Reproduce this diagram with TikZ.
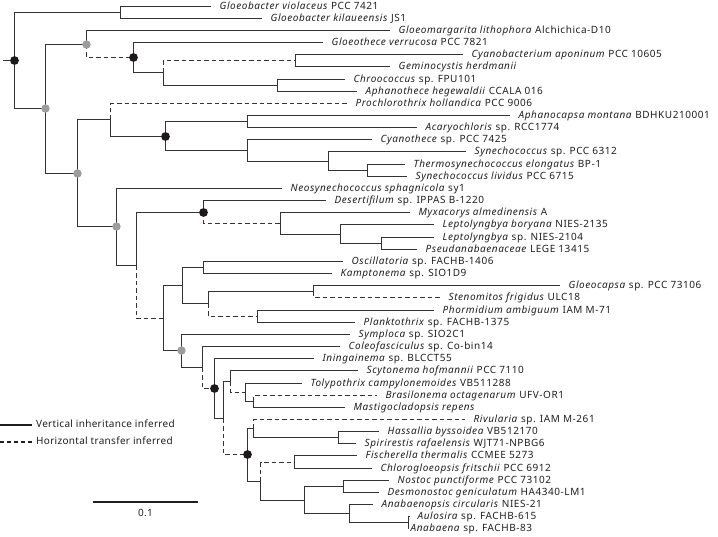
\documentclass[tikz,border=0pt]{standalone}
\usepackage{fontspec}
\setmainfont{Noto Sans}[LetterSpace=5.5]
\newfontfamily\legfont{Noto Sans}[LetterSpace=3]
\definecolor{linec}{HTML}{333333}
\definecolor{txtc}{HTML}{1F1F1F}
\definecolor{dotblack}{HTML}{1E1A1A}
\definecolor{dotgray}{HTML}{9C9C9C}
\begin{document}
\begin{tikzpicture}[x=1pt,y=-1pt,
  br/.style={line width=1.55pt, draw=linec},
  hgt/.style={br, dash pattern=on 4.5pt off 3pt},
  leaf/.style={anchor=west, inner xsep=8.5pt, inner ysep=0pt, text height=7pt, text depth=2pt, font=\fontsize{10}{12}\selectfont, text=txtc},
  legtxt/.style={anchor=west, inner xsep=4pt, inner ysep=0pt, text height=7pt, text depth=2pt, font=\legfont\fontsize{10}{12}\selectfont, text=txtc},
  bdot/.style={fill=dotblack},
  gdot/.style={fill=dotgray}]
\useasboundingbox (0,0) rectangle (718,536);
% internal nodes
\coordinate (stub) at (3,60.5);
\coordinate (R) at (14.5,60.5);
\coordinate (G1) at (120.5,12.5);
\coordinate (N1) at (45.5,108.5);
\coordinate (N2) at (86.5,44.5);
\coordinate (N4) at (133.5,57.5);
\coordinate (N5) at (163.5,72.5);
\coordinate (N6) at (295.5,60.5);
\coordinate (N7) at (277.5,85.5);
\coordinate (N3) at (77.5,173.5);
\coordinate (N8) at (110.5,119.5);
\coordinate (N10) at (165.5,136.5);
\coordinate (N11) at (247.5,121.5);
\coordinate (N12) at (247.5,150.5);
\coordinate (N13) at (328.5,161.5);
\coordinate (N14) at (367.5,170.5);
\coordinate (N9) at (116.5,226.5);
\coordinate (N15) at (136.5,265.5);
\coordinate (N16) at (203.5,212.5);
\coordinate (N18) at (280.5,223.5);
\coordinate (N19) at (340.5,234.5);
\coordinate (N20) at (381.5,243.5);
\coordinate (N17) at (163.5,318.5);
\coordinate (N21) at (182.5,285.5);
\coordinate (N23) at (203.5,267.5);
\coordinate (N24) at (208.5,303.5);
\coordinate (N25) at (313.5,291.5);
\coordinate (N26) at (257.5,316.5);
\coordinate (N22) at (181.5,350.5);
\coordinate (N27) at (202.5,367.5);
\coordinate (N28) at (214.5,388.5);
\coordinate (N29) at (223.5,418.5);
\coordinate (N30) at (230.5,381.5);
\coordinate (N32) at (245.5,392.5);
\coordinate (N33) at (253.5,401.5);
\coordinate (N31) at (247.5,454.5);
\coordinate (N34) at (253.5,428.5);
\coordinate (N36) at (338.5,437.5);
\coordinate (N35) at (260.5,481.5);
\coordinate (N37) at (294.5,462.5);
\coordinate (N38) at (304.5,500.5);
\coordinate (N39) at (343.5,486.5);
\coordinate (N40) at (349.5,513.5);
\coordinate (N41) at (408.5,522.5);
% leaves
\node[leaf] (l1) at (211,6.5) {\textit{Gloeobacter violaceus} PCC 7421};
\node[leaf] (l2) at (262,18.5) {\textit{Gloeobacter kilaueensis} JS1};
\node[leaf] (l3) at (390,30.5) {\textit{Gloeomargarita lithophora} Alchichica-D10};
\node[leaf] (l4) at (323,42.5) {\textit{Gloeothece verrucosa} PCC 7821};
\node[leaf] (l5) at (463,54.5) {\textit{Cyanobacterium aponinum} PCC 10605};
\node[leaf] (l6) at (390,66.5) {\textit{Geminocystis herdmanii}};
\node[leaf] (l7) at (345,79.5) {\textit{Chroococcus} sp. FPU101};
\node[leaf] (l8) at (357,91.5) {\textit{Aphanothece hegewaldii} CCALA 016};
\node[leaf] (l9) at (347,103.5) {\textit{Prochlorothrix hollandica} PCC 9006};
\node[leaf] (l10) at (510,115.5) {\textit{Aphanocapsa montana} BDHKU210001};
\node[leaf] (l11) at (417,127.5) {\textit{Acaryochloris} sp. RCC1774};
\node[leaf] (l12) at (372,139.5) {\textit{Cyanothece} sp. PCC 7425};
\node[leaf] (l13) at (466,151.5) {\textit{Synechococcus} sp. PCC 6312};
\node[leaf] (l14) at (405,164.5) {\textit{Thermosynechococcus elongatus} BP-1};
\node[leaf] (l15) at (407,176.5) {\textit{Synechococcus lividus} PCC 6715};
\node[leaf] (l16) at (282,188.5) {\textit{Neosynechococcus sphagnicola} sy1};
\node[leaf] (l17) at (326,200.5) {\textit{Desertifilum} sp. IPPAS B-1220};
\node[leaf] (l18) at (410,212.5) {\textit{Myxacorys almedinensis} A};
\node[leaf] (l19) at (434,224.5) {\textit{Leptolyngbya boryana} NIES-2135};
\node[leaf] (l20) at (434,237.5) {\textit{Leptolyngbya} sp. NIES-2104};
\node[leaf] (l21) at (417,249.5) {\textit{Pseudanabaenaceae} LEGE 13415};
\node[leaf] (l22) at (343,261.5) {\textit{Oscillatoria} sp. FACHB-1406};
\node[leaf] (l23) at (332,273.5) {\textit{Kamptonema} sp. SIO1D9};
\node[leaf] (l24) at (560,285.5) {\textit{Gloeocapsa} sp. PCC 73106};
\node[leaf] (l25) at (440,297.5) {\textit{Stenomitos frigidus} ULC18};
\node[leaf] (l26) at (434,310.5) {\textit{Phormidium ambiguum} IAM M-71};
\node[leaf] (l27) at (355,322.5) {\textit{Planktothrix} sp. FACHB-1375};
\node[leaf] (l28) at (350,334.5) {\textit{Symploca} sp. SIO2C1};
\node[leaf] (l29) at (340,346.5) {\textit{Coleofasciculus} sp. Co-bin14};
\node[leaf] (l30) at (314,358.5) {\textit{Iningainema} sp. BLCCT55};
\node[leaf] (l31) at (358,370.5) {\textit{Scytonema hofmannii} PCC 7110};
\node[leaf] (l32) at (302,383.5) {\textit{Tolypothrix campylonemoides} VB511288};
\node[leaf] (l33) at (377,395.5) {\textit{Brasilonema octagenarum} UFV-OR1};
\node[leaf] (l34) at (345,407.5) {\textit{Mastigocladopsis repens}};
\node[leaf] (l35) at (465,419.5) {\textit{Rivularia} sp. IAM M-261};
\node[leaf] (l36) at (379,431.5) {\textit{Hassallia byssoidea} VB512170};
\node[leaf] (l37) at (356,443.5) {\textit{Spirirestis rafaelensis} WJT71-NPBG6};
\node[leaf] (l38) at (357,455.5) {\textit{Fischerella thermalis} CCMEE 5273};
\node[leaf] (l39) at (372,468.5) {\textit{Chlorogloeopsis fritschii} PCC 6912};
\node[leaf] (l40) at (389,480.5) {\textit{Nostoc punctiforme} PCC 73102};
\node[leaf] (l41) at (379,492.5) {\textit{Desmonostoc geniculatum} HA4340-LM1};
\node[leaf] (l42) at (373,504.5) {\textit{Anabaenopsis circularis} NIES-21};
\node[leaf] (l43) at (409,516.5) {\textit{Aulosira} sp. FACHB-615};
\node[leaf, inner xsep=2pt] (l44) at (408.5,528.5) {\textit{Anabaena} sp. FACHB-83};
% branches
\draw[br] (stub) -- (R);
\draw[br] (R) |- (G1);
\draw[br] (R) |- (N1);
\draw[br] (G1) |- (l1.west);
\draw[br] (G1) |- (l2.west);
\draw[br] (N1) |- (N2);
\draw[br] (N1) |- (N3);
\draw[br] (N2) |- (l3.west);
\draw[hgt] (N2) |- (N4);
\draw[br] (N4) |- (l4.west);
\draw[br] (N4) |- (N5);
\draw[hgt] (N5) |- (N6);
\draw[br] (N5) |- (N7);
\draw[br] (N6) |- (l5.west);
\draw[br] (N6) |- (l6.west);
\draw[br] (N7) |- (l7.west);
\draw[br] (N7) |- (l8.west);
\draw[br] (N3) |- (N8);
\draw[br] (N3) |- (N9);
\draw[hgt] (N8) |- (l9.west);
\draw[br] (N8) |- (N10);
\draw[br] (N10) |- (N11);
\draw[br] (N10) |- (N12);
\draw[br] (N11) |- (l10.west);
\draw[br] (N11) |- (l11.west);
\draw[br] (N12) |- (l12.west);
\draw[br] (N12) |- (N13);
\draw[br] (N13) |- (l13.west);
\draw[br] (N13) |- (N14);
\draw[br] (N14) |- (l14.west);
\draw[br] (N14) |- (l15.west);
\draw[br] (N9) |- (l16.west);
\draw[br] (N9) |- (N15);
\draw[br] (N15) |- (N16);
\draw[hgt] (N15) |- (N17);
\draw[br] (N16) |- (l17.west);
\draw[hgt] (N16) |- (N18);
\draw[br] (N18) |- (l18.west);
\draw[br] (N18) |- (N19);
\draw[br] (N19) |- (l19.west);
\draw[br] (N19) |- (N20);
\draw[br] (N20) |- (l20.west);
\draw[br] (N20) |- (l21.west);
\draw[br] (N17) |- (N21);
\draw[br] (N17) |- (N22);
\draw[br] (N21) |- (N23);
\draw[br] (N21) |- (N24);
\draw[br] (N23) |- (l22.west);
\draw[br] (N23) |- (l23.west);
\draw[br] (N24) |- (N25);
\draw[hgt] (N24) |- (N26);
\draw[br] (N25) |- (l24.west);
\draw[hgt] (N25) |- (l25.west);
\draw[br] (N26) |- (l26.west);
\draw[br] (N26) |- (l27.west);
\draw[br] (N22) |- (l28.west);
\draw[br] (N22) |- (N27);
\draw[br] (N27) |- (l29.west);
\draw[hgt] (N27) |- (N28);
\draw[br] (N28) |- (l30.west);
\draw[br] (N28) |- (N29);
\draw[br] (N29) |- (N30);
\draw[hgt] (N29) |- (N31);
\draw[br] (N30) |- (l31.west);
\draw[hgt] (N30) |- (N32);
\draw[br] (N32) |- (l32.west);
\draw[br] (N32) |- (N33);
\draw[hgt] (N33) |- (l33.west);
\draw[br] (N33) |- (l34.west);
\draw[br] (N31) |- (N34);
\draw[br] (N31) |- (N35);
\draw[hgt] (N34) |- (l35.west);
\draw[br] (N34) |- (N36);
\draw[br] (N36) |- (l36.west);
\draw[br] (N36) |- (l37.west);
\draw[hgt] (N35) |- (N37);
\draw[br] (N35) |- (N38);
\draw[br] (N37) |- (l38.west);
\draw[br] (N37) |- (l39.west);
\draw[br] (N38) |- (N39);
\draw[br] (N38) |- (N40);
\draw[br] (N39) |- (l40.west);
\draw[br] (N39) |- (l41.west);
\draw[br] (N40) |- (l42.west);
\draw[br] (N40) |- (N41);
\draw[br] (N41) |- (l43.west);
\draw[br] (N41) |- (l44.west);
% dots
\foreach \n in {R,N4,N10,N16,N28,N31} \fill[bdot] (\n) circle (4.4pt);
\foreach \n in {N1,N2,N3,N9,N22} \fill[gdot] (\n) circle (4.2pt);
% legend
\coordinate (lgA) at (0,425);
\node[legtxt] (lg1) at (32,425) {Vertical inheritance inferred};
\draw[line width=2pt, draw=txtc] (lgA) -- (lg1.west);
\coordinate (lgB) at (0,442);
\node[legtxt] (lg2) at (32,442) {Horizontal transfer inferred};
\draw[line width=2pt, draw=txtc, dash pattern=on 4pt off 3pt] (lgB) -- (lg2.west);
% scale bar
\coordinate (sb1) at (93,502);
\coordinate (sb2) at (198,502);
\draw[line width=2.8pt, draw=txtc] (sb1) -- (sb2);
\node[legtxt, anchor=center, inner xsep=0pt] (sbl) at (145.5,513.5) {0.1};
\end{tikzpicture}
\end{document}
